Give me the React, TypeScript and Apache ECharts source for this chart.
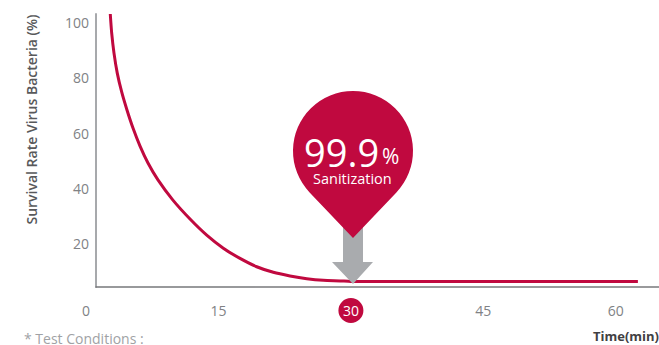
import React, { useEffect, useRef } from "react";
import * as echarts from "echarts";

const curveTimes = [2.75, 2.91, 3.17, 3.54, 4.04, 4.64, 5.32, 6.12, 7.02, 8.15, 9.82, 11.78, 13.67, 15.55, 17.44, 19.33, 21.21, 23.1, 25, 26.87, 28.77, 30, 45, 62.5];
const curveValues = [102.9, 96, 88.8, 81.6, 74.8, 68.3, 61.8, 55.3, 49.2, 43.1, 35.9, 29, 23.2, 18.5, 14.8, 11.8, 9.8, 8.5, 7.5, 6.9, 6.7, 6.5, 6.5, 6.5];
const xTicks = [0, 15, 30, 45, 60];
const yTicks = [20, 40, 60, 80, 100];
const RED = "#c0093f";
const GREY = "#808285";

echarts.graphic.registerShape(
  "pin",
  echarts.graphic.extendPath("M 353 238 L 309.6 192.4 A 60 60 0 1 1 396.4 192.4 Z", {})
);

export default function App() {
  const ref = useRef<HTMLDivElement>(null);
  useEffect(() => {
    document.body.style.margin = "0";
    document.body.style.background = "#fff";
    const chart = echarts.init(ref.current!, null, { renderer: "svg" });
    const yRange = { type: "value" as const, min: 4.5, max: 102.9, splitLine: { show: false } };
    const font = "Open Sans";
    chart.setOption({
      animation: false,
      backgroundColor: "#fff",
      grid: [
        { left: 86, right: 0, top: 14, bottom: 58 },
        { left: 96, right: 0, top: 14, bottom: 58 },
      ],
      xAxis: [
        {
          type: "value",
          gridIndex: 0,
          min: 0,
          max: 64.89,
          interval: 15,
          splitLine: { show: false },
          axisLine: { show: false },
          axisTick: { show: false },
          axisLabel: {
            margin: 11,
            showMaxLabel: false,
            formatter: (v: number) => (xTicks.includes(v) ? (v === 30 ? `{hl|${v}}` : `{n|${v}}`) : ""),
            rich: {
              n: { fontFamily: font, fontSize: 14, color: GREY, height: 25, lineHeight: 25 },
              hl: {
                fontFamily: font,
                fontSize: 14,
                color: "#fff",
                backgroundColor: RED,
                borderRadius: 12.5,
                width: 25,
                height: 25,
                lineHeight: 25,
                align: "center",
              },
            },
          },
        },
        {
          type: "value",
          gridIndex: 1,
          min: 1.13,
          max: 64.89,
          splitLine: { show: false },
          axisLine: { show: true, lineStyle: { color: "#77787b", width: 1.5 } },
          axisTick: { show: false },
          axisLabel: { show: false },
        },
      ],
      yAxis: [
        { ...yRange, gridIndex: 0, show: false },
        {
          ...yRange,
          gridIndex: 1,
          name: "Survival Rate Virus Bacteria (%)",
          nameLocation: "middle",
          nameRotate: 90,
          nameGap: 58,
          nameTextStyle: {
            fontFamily: font,
            fontSize: 14,
            fontWeight: 600,
            color: "#58595b",
            padding: [0, 0, 0, 62],
          },
          axisLine: { show: true, lineStyle: { color: "#a7a9ac", width: 2 } },
          axisTick: { show: false },
          axisLabel: {
            margin: 7,
            customValues: yTicks,
            fontFamily: font,
            fontSize: 14,
            color: GREY,
          },
        },
      ],
      series: [
        {
          type: "line",
          xAxisIndex: 0,
          yAxisIndex: 0,
          data: curveTimes.map((t, i) => [t, curveValues[i]]),
          smooth: 0.25,
          showSymbol: false,
          lineStyle: { color: RED, width: 3 },
        },
      ],
      graphic: [
        {
          type: "polygon",
          z: 100,
          shape: {
            points: [
              [343, 225],
              [363, 225],
              [363, 262],
              [373, 262],
              [353, 284],
              [332, 262],
              [343, 262],
            ],
          },
          style: { fill: "#a9abae" },
        },
        { type: "pin", z: 101, x: 0, y: 0, style: { fill: RED } },
        {
          type: "text",
          z: 102,
          x: 304,
          y: 136,
          style: { text: "99.9", fill: "#fff", fontFamily: font, fontSize: 38, lineHeight: 32, textVerticalAlign: "top" },
        },
        {
          type: "text",
          z: 102,
          x: 382,
          y: 145,
          style: { text: "%", fill: "#fff", fontFamily: font, fontSize: 21, lineHeight: 22, textVerticalAlign: "top" },
        },
        {
          type: "text",
          z: 102,
          x: 313,
          y: 171,
          style: { text: "Sanitization", fill: "#fff", fontFamily: font, fontSize: 14.5, lineHeight: 15, textVerticalAlign: "top" },
        },
        {
          type: "text",
          z: 102,
          x: 593,
          y: 329,
          style: { text: "Time(min)", fill: "#414042", fontFamily: font, fontSize: 13, fontWeight: "bold", lineHeight: 14, textVerticalAlign: "top" },
        },
        {
          type: "text",
          z: 102,
          x: 24,
          y: 331,
          style: { text: "* Test Conditions :", fill: "#a0a2a5", fontFamily: font, fontSize: 14, lineHeight: 14, textVerticalAlign: "top" },
        },
      ],
    });
    return () => chart.dispose();
  }, []);
  return <div ref={ref} style={{ width: 659, height: 345, overflow: "hidden" }} />;
}
